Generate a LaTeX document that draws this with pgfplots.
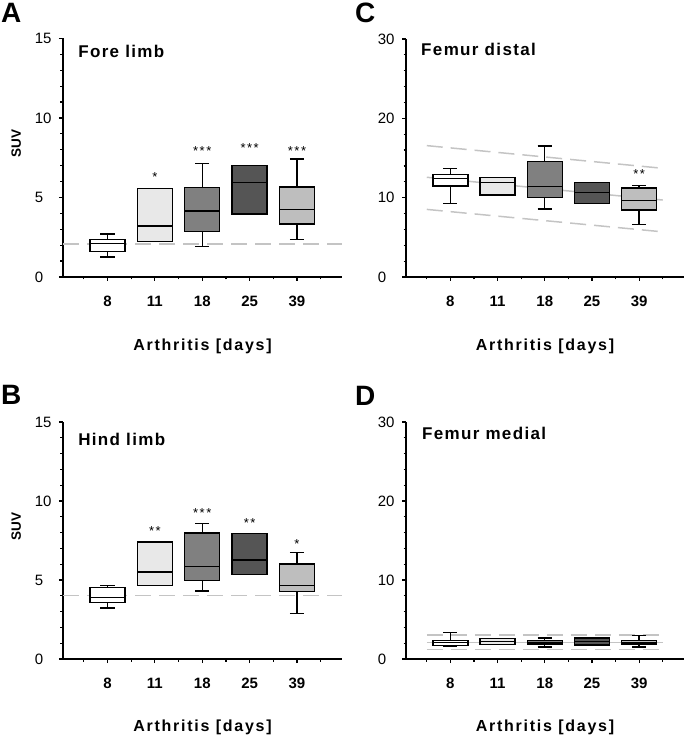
\documentclass[border=0pt]{standalone}
\usepackage{fontspec}
\setmainfont{Liberation Sans}
\usepackage{pgfplots}
\pgfplotsset{compat=1.18}
\usepgfplotslibrary{statistics}

\definecolor{cA}{HTML}{FFFFFF}
\definecolor{cB}{HTML}{E8E8E8}
\definecolor{cC}{HTML}{808080}
\definecolor{cD}{HTML}{555555}
\definecolor{cE}{HTML}{BEBEBE}
\definecolor{refgray}{HTML}{C4C4C4}

\newcommand{\fs}[1]{\fontsize{#1pt}{#1pt}\selectfont}

\tikzset{
  ttl/.style={anchor=north west, inner sep=0pt, font=\fs{17}\bfseries\addfontfeatures{LetterSpace=8}},
  star/.style={font=\fs{13}, inner sep=0pt},
}

\pgfplotsset{
  panel/.style={
    scale only axis, width=279pt,
    axis lines=left, axis line style={-, line width=1.3pt},
    xmin=-0.94, xmax=4.95, ymin=0,
    xtick={0,1,2,3,4}, xticklabels={8,11,18,25,39},
    minor xtick={-0.5,0.5,1.5,2.5,3.5,4.5},
    minor y tick num=4,
    tick align=outside,
    major tick length=4pt, minor tick length=2.5pt,
    tick style={black, line width=1.2pt},
    xticklabel style={font=\fs{15}\bfseries, anchor=north, inner sep=0pt, yshift=-15pt},
    yticklabel style={font=\fs{15}, anchor=east, inner sep=0pt, text width=18pt, align=left, xshift=-6pt},
    /pgf/number format/assume math mode=true,
    xlabel={Arthritis [days]},
    xlabel style={font=\fs{16}\bfseries\addfontfeatures{LetterSpace=11}, at={(axis description cs:0.5,-0.258)}, anchor=north, inner sep=0pt},
    boxplot/draw direction=y,
    boxplot/box extend=0.74,
    boxplot/whisker extend=0.3,
    clip=false,
  },
  bx/.style={draw=black, line width=1.4pt, fill=#1, solid},
  refl/.style={refgray, line width=1.5pt, dash pattern=on 16pt off 8pt},
  refs/.style={refgray, line width=1.5pt},
  ylab/.style={ylabel={SUV}, ylabel style={font=\fs{13.5}\bfseries, at={(axis description cs:-0.168,0.56)}, anchor=center, inner sep=0pt}},
}

\begin{document}
\begin{tikzpicture}[x=1pt,y=1pt]
\path[use as bounding box] (0,0) rectangle (685,736);

\node[anchor=north west, inner sep=0pt, font=\fs{28}\bfseries] at (1,733) {A};
\node[anchor=north west, inner sep=0pt, font=\fs{28}\bfseries] at (1,351) {B};
\node[anchor=north west, inner sep=0pt, font=\fs{28}\bfseries] at (355,733) {C};
\node[anchor=north west, inner sep=0pt, font=\fs{28}\bfseries] at (355,350) {D};

% ---------- A
\begin{axis}[panel, ylab, at={(63pt,459pt)}, anchor=south west, height=238.5pt,
  ymax=15, ytick={0,5,10,15}]
\addplot[refl] coordinates {(-0.94,2.07) (4.95,2.07)};
\addplot[bx=cA, boxplot prepared={draw position=0, lower whisker=1.26, lower quartile=1.59, median=2.12, upper quartile=2.37, upper whisker=2.70}] coordinates {};
\addplot[bx=cB, boxplot prepared={draw position=1, lower whisker=2.22, lower quartile=2.22, median=3.20, upper quartile=5.57, upper whisker=5.57}] coordinates {};
\addplot[bx=cC, boxplot prepared={draw position=2, lower whisker=1.90, lower quartile=2.87, median=4.16, upper quartile=5.63, upper whisker=7.14}] coordinates {};
\addplot[bx=cD, boxplot prepared={draw position=3, lower whisker=3.95, lower quartile=3.95, median=5.96, upper quartile=7.03, upper whisker=7.03}] coordinates {};
\addplot[bx=cE, boxplot prepared={draw position=4, lower whisker=2.37, lower quartile=3.33, median=4.23, upper quartile=5.67, upper whisker=7.41}] coordinates {};
\node[star] at (axis cs:1,6.28) {*};
\node[star] at (axis cs:2,7.93) {*\hspace{1.5pt}*\hspace{1.5pt}*};
\node[star] at (axis cs:3,8.08) {*\hspace{1.5pt}*\hspace{1.5pt}*};
\node[star] at (axis cs:4,7.93) {*\hspace{1.5pt}*\hspace{1.5pt}*};
\node[ttl] at (axis description cs:0.054,0.971) {Fore limb};
\end{axis}

% ---------- B
\begin{axis}[panel, ylab, at={(63pt,77pt)}, anchor=south west, height=237pt,
  ymax=15, ytick={0,5,10,15}]
\addplot[refl] coordinates {(-0.94,4.03) (4.95,4.03)};
\addplot[bx=cA, boxplot prepared={draw position=0, lower whisker=3.23, lower quartile=3.59, median=3.88, upper quartile=4.51, upper whisker=4.64}] coordinates {};
\addplot[bx=cB, boxplot prepared={draw position=1, lower whisker=4.64, lower quartile=4.64, median=5.50, upper quartile=7.40, upper whisker=7.40}] coordinates {};
\addplot[bx=cC, boxplot prepared={draw position=2, lower whisker=4.30, lower quartile=4.96, median=5.87, upper quartile=7.97, upper whisker=8.56}] coordinates {};
\addplot[bx=cD, boxplot prepared={draw position=3, lower whisker=5.36, lower quartile=5.36, median=6.27, upper quartile=7.93, upper whisker=7.93}] coordinates {};
\addplot[bx=cE, boxplot prepared={draw position=4, lower whisker=2.87, lower quartile=4.28, median=4.64, upper quartile=6.01, upper whisker=6.73}] coordinates {};
\node[star] at (axis cs:1,8.12) {*\hspace{1.5pt}*};
\node[star] at (axis cs:2,9.22) {*\hspace{1.5pt}*\hspace{1.5pt}*};
\node[star] at (axis cs:3,8.63) {*\hspace{1.5pt}*};
\node[star] at (axis cs:4,7.26) {*};
\node[ttl] at (axis description cs:0.054,0.953) {Hind limb};
\end{axis}

% ---------- C
\begin{axis}[panel, at={(406pt,459pt)}, anchor=south west, height=238pt, width=278pt,
  ymax=30, ytick={0,10,20,30}]
\addplot[refl] coordinates {(-0.5,16.56) (4.5,13.70)};
\addplot[refl] coordinates {(-0.5,8.52) (4.5,5.69)};
\addplot[refs] coordinates {(-0.5,12.57) (4.5,9.70)};
\addplot[bx=cA, boxplot prepared={draw position=0, lower whisker=9.28, lower quartile=11.47, median=12.44, upper quartile=12.95, upper whisker=13.65}] coordinates {};
\addplot[bx=cB, boxplot prepared={draw position=1, lower whisker=10.33, lower quartile=10.33, median=11.88, upper quartile=12.52, upper whisker=12.52}] coordinates {};
\addplot[bx=cC, boxplot prepared={draw position=2, lower whisker=8.56, lower quartile=9.99, median=11.38, upper quartile=14.54, upper whisker=16.52}] coordinates {};
\addplot[bx=cD, boxplot prepared={draw position=3, lower whisker=9.28, lower quartile=9.28, median=10.62, upper quartile=11.93, upper whisker=11.93}] coordinates {};
\addplot[bx=cE, boxplot prepared={draw position=4, lower whisker=6.62, lower quartile=8.43, median=9.66, upper quartile=11.21, upper whisker=11.50}] coordinates {};
\node[star] at (axis cs:4,12.95) {*\hspace{1.5pt}*};
\node[ttl] at (axis description cs:0.054,0.983) {Femur distal};
\end{axis}

% ---------- D
\begin{axis}[panel, at={(406pt,77pt)}, anchor=south west, height=237pt, width=278pt,
  ymax=30, ytick={0,10,20,30}]
\addplot[refl] coordinates {(-0.5,3.03) (4.5,3.03)};
\addplot[refl] coordinates {(-0.5,1.22) (4.5,1.22)};
\addplot[refs] coordinates {(-0.5,2.10) (4.5,2.10)};
\addplot[bx=cA, boxplot prepared={draw position=0, lower whisker=1.62, lower quartile=1.73, median=2.06, upper quartile=2.36, upper whisker=3.33}] coordinates {};
\addplot[bx=cB, boxplot prepared={draw position=1, lower whisker=1.81, lower quartile=1.81, median=2.19, upper quartile=2.57, upper whisker=2.57}] coordinates {};
\addplot[bx=cC, boxplot prepared={draw position=2, lower whisker=1.52, lower quartile=1.86, median=2.05, upper quartile=2.36, upper whisker=2.65}] coordinates {};
\addplot[bx=cD, boxplot prepared={draw position=3, lower whisker=1.75, lower quartile=1.75, median=2.20, upper quartile=2.65, upper whisker=2.65}] coordinates {};
\addplot[bx=cE, boxplot prepared={draw position=4, lower whisker=1.52, lower quartile=1.80, median=2.05, upper quartile=2.36, upper whisker=2.95}] coordinates {};
\node[ttl] at (axis description cs:0.057,0.979) {Femur medial};
\end{axis}
\end{tikzpicture}
\end{document}
